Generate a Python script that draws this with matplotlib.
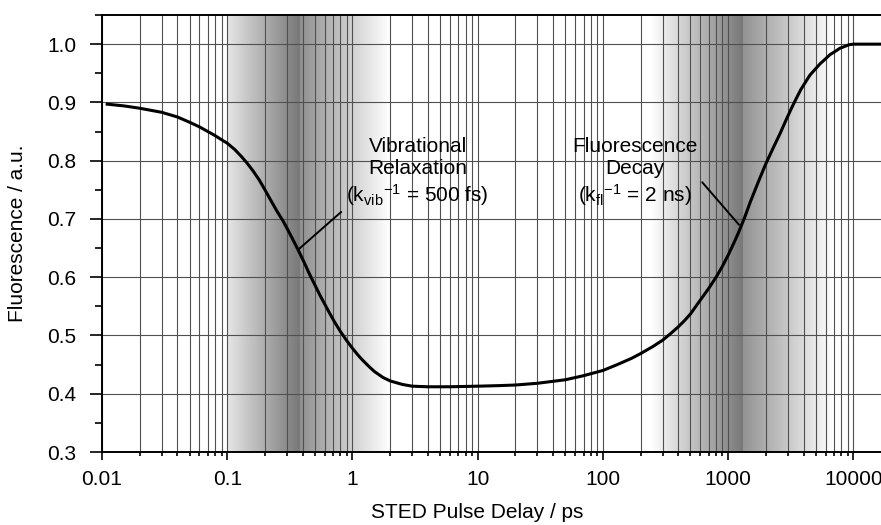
import numpy as np
import matplotlib
matplotlib.use("Agg")
import matplotlib.pyplot as plt
from matplotlib.ticker import MultipleLocator, NullFormatter, LogLocator

plt.rcParams['font.family'] = ['Liberation Sans', 'DejaVu Sans']
plt.rcParams['mathtext.default'] = 'regular'
plt.rcParams['font.size'] = 15

# curve (delay in ps, fluorescence in a.u.)
delay_ps = [0.011, 0.015, 0.02, 0.03, 0.04, 0.05, 0.06, 0.07, 0.08, 0.09,
            0.1, 0.115, 0.13, 0.145, 0.16, 0.18, 0.2, 0.22, 0.25, 0.28,
            0.3, 0.33, 0.37, 0.41, 0.45, 0.5, 0.55, 0.6, 0.65, 0.72,
            0.8, 0.9, 1.0, 1.1, 1.2, 1.35, 1.5, 1.75, 2, 2.5,
            3, 4, 6, 10, 15, 20, 30, 50, 70, 100,
            130, 170, 200, 250, 300, 350, 400, 450, 500, 600,
            700, 800, 900, 1000, 1100, 1200, 1350, 1500, 1750, 2000,
            2300, 2600, 2900, 3200, 3500, 3800, 4200, 4500, 5000, 5400,
            6000, 6500, 7200, 7800, 8500, 9200, 10000, 16600]
fluorescence = [0.897, 0.894, 0.890, 0.883, 0.875, 0.866, 0.858, 0.850, 0.843, 0.836,
                0.830, 0.819, 0.807, 0.795, 0.783, 0.767, 0.750, 0.734, 0.713, 0.696,
                0.684, 0.667, 0.646, 0.626, 0.607, 0.587, 0.569, 0.554, 0.540, 0.523,
                0.507, 0.491, 0.478, 0.467, 0.458, 0.447, 0.438, 0.428, 0.422, 0.416,
                0.413, 0.412, 0.412, 0.413, 0.414, 0.415, 0.418, 0.424, 0.431, 0.440,
                0.450, 0.461, 0.469, 0.481, 0.492, 0.504, 0.515, 0.526, 0.537, 0.561,
                0.581, 0.600, 0.619, 0.638, 0.657, 0.675, 0.702, 0.729, 0.765, 0.795,
                0.823, 0.847, 0.870, 0.890, 0.907, 0.922, 0.937, 0.947, 0.958, 0.966,
                0.975, 0.982, 0.988, 0.993, 0.996, 0.999, 1.000, 1.000]

xtick_vals = [0.01, 0.1, 1, 10, 100, 1000, 10000]
xtick_labels = ['0.01', '0.1', '1', '10', '100', '1000', '10000']
ytick_vals = [0.3, 0.4, 0.5, 0.6, 0.7, 0.8, 0.9, 1.0]
ytick_labels = ['0.3', '0.4', '0.5', '0.6', '0.7', '0.8', '0.9', '1.0']

x_min, x_max = 0.01, 16600
y_min, y_max = 0.3, 1.05

# gray gradient bands: (log10 delay, gray level) breakpoints
vib_band = [(-1.0001, 1.0), (-1.0, 0.9), (np.log10(0.38), 0.47),
            (np.log10(0.38) + 1e-4, 0.56), (np.log10(2.0), 1.0)]
fl_band = [(np.log10(240), 1.0), (np.log10(1300), 0.47),
           (np.log10(1300) + 1e-4, 0.57), (np.log10(7000), 1.0)]

fig = plt.figure(figsize=(8.81, 5.25), dpi=100)
ax = fig.add_axes([0.1158, 0.139, 0.8842, 0.8324])
ax.set_xscale('log')
ax.set_xlim(x_min, x_max)
ax.set_ylim(y_min, y_max)

# shading
edges = np.logspace(np.log10(x_min), np.log10(x_max), 2000)
centers = np.log10(np.sqrt(edges[:-1] * edges[1:]))
gray = np.ones_like(centers)
for band in (vib_band, fl_band):
    pos, lev = zip(*band)
    gray = np.minimum(gray, np.interp(centers, pos, lev, left=1.0, right=1.0))
ax.pcolormesh(edges, [y_min, y_max], gray[np.newaxis, :], cmap='gray',
              vmin=0, vmax=1, shading='flat', zorder=0,
              antialiased=False, edgecolors='none')

ax.set_axisbelow(True)
ax.grid(True, which='major', axis='both', color='#505050', lw=0.8)
ax.grid(True, which='minor', axis='x', color='#505050', lw=0.8)

ax.plot(delay_ps, fluorescence, color='black', lw=2.2, zorder=3,
        solid_joinstyle='round')

# ticks
ax.set_xticks(xtick_vals, xtick_labels)
ax.xaxis.set_minor_locator(LogLocator(base=10, subs=np.arange(2, 10)))
ax.xaxis.set_minor_formatter(NullFormatter())
ax.set_yticks(ytick_vals, ytick_labels)
ax.yaxis.set_minor_locator(MultipleLocator(0.05))
ax.tick_params(which='both', direction='out', width=1.2, colors='black',
               top=False, right=False)
ax.tick_params(axis='x', which='major', length=5.8, pad=7)
ax.tick_params(axis='x', which='minor', length=2.9)
ax.tick_params(axis='y', which='major', length=8.6, pad=10)
ax.tick_params(axis='y', which='minor', length=5)

for side in ('left', 'bottom', 'top'):
    ax.spines[side].set_linewidth(1.4)
ax.spines['right'].set_visible(False)

ax.set_xlabel('STED Pulse Delay / ps')
ax.xaxis.set_label_coords(0.481, -0.117)
ax.set_ylabel('Fluorescence / a.u.')
ax.yaxis.set_label_coords(-0.0963, 0.5)

# annotations
ax.text(3.31, 0.7804, 'Vibrational\nRelaxation\n(k$_{vib}$$^{-1}$ = 500 fs)',
        ha='center', va='center', ma='center', zorder=5)
ax.annotate('', xy=(0.367, 0.647), xytext=(0.812, 0.712),
            arrowprops=dict(arrowstyle='-', lw=1.4, color='black',
                            shrinkA=0, shrinkB=0), zorder=4)
ax.text(181, 0.7804, 'Fluorescence\nDecay\n(k$_{fl}$$^{-1}$ = 2 ns)',
        ha='center', va='center', ma='center', zorder=5)
ax.annotate('', xy=(1220, 0.69), xytext=(620, 0.763),
            arrowprops=dict(arrowstyle='-', lw=1.4, color='black',
                            shrinkA=0, shrinkB=0), zorder=4)

fig.savefig('out.png', dpi=100)
